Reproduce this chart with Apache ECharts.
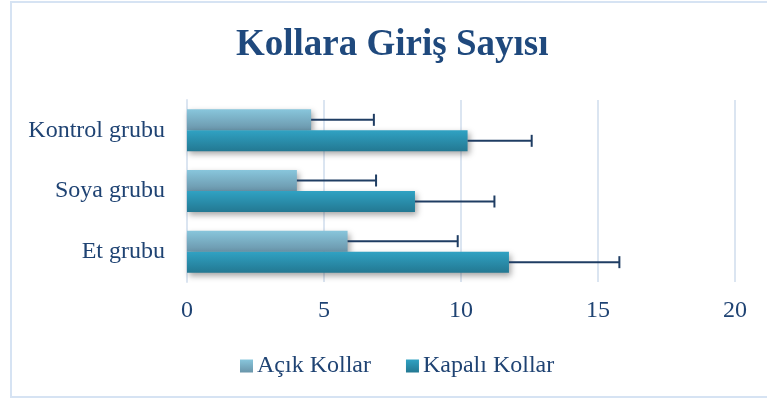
<!DOCTYPE html>
<html>
<head>
<meta charset="utf-8">
<script src="https://cdn.jsdelivr.net/npm/echarts@6/dist/echarts.min.js"></script>
<style>
  html, body { margin: 0; padding: 0; background: #fff; }
  #chart { width: 767px; height: 400px; }
</style>
</head>
<body>
<div id="chart"></div>
<script>
// categories listed bottom to top (y category axis grows upwards)
const categories = ['Et grubu', 'Soya grubu', 'Kontrol grubu'];
const seriesNames = ['Açık Kollar', 'Kapalı Kollar'];
const acikValues = [5.86, 4.01, 4.53];
const acikErrors = [4.02, 2.89, 2.29];
const kapaliValues = [11.75, 8.32, 10.24];
const kapaliErrors = [4.03, 2.9, 2.34];
const xTicks = [0, 5, 10, 15, 20];

const textColor = '#1f4373';
const serif = '"Liberation Serif", "DejaVu Serif", serif';
const barW = 21;

const acikColor = new echarts.graphic.LinearGradient(0, 0, 0, 1, [
  {offset: 0, color: '#88c6dc'},
  {offset: 1, color: '#6a95aa'}
]);
const kapaliColor = new echarts.graphic.LinearGradient(0, 0, 0, 1, [
  {offset: 0, color: '#30a2c3'},
  {offset: 1, color: '#237892'}
]);

// error bar data: [category index, value, error, bar offset side]
const errData = [];
acikValues.forEach((v, i) => errData.push([i, v, acikErrors[i], -1]));
kapaliValues.forEach((v, i) => errData.push([i, v, kapaliErrors[i], 1]));

const renderError = (params, api) => {
  const side = api.value(3);
  const start = api.coord([api.value(1), api.value(0)]);
  const end = api.coord([api.value(1) + api.value(2), api.value(0)]);
  const y = start[1] + side * barW / 2;
  const style = {stroke: '#1f3d63', lineWidth: 2};
  return {
    type: 'group',
    children: [
      {type: 'line', shape: {x1: start[0], y1: y, x2: end[0], y2: y}, style: style},
      {type: 'line', shape: {x1: end[0], y1: y - 6, x2: end[0], y2: y + 6}, style: style}
    ]
  };
};

const options = {
  animation: false,
  title: {
    text: 'Kollara Giriş Sayısı',
    left: 236,
    top: 27,
    padding: 0,
    textStyle: {fontFamily: serif, fontSize: 37, fontWeight: 'bold', color: '#1f497d'}
  },
  graphic: [{
    type: 'rect',
    shape: {x: 11, y: 2, width: 800, height: 395},
    style: {fill: 'none', stroke: '#d6e3f3', lineWidth: 2},
    z: -1
  }],
  legend: {
    data: seriesNames,
    top: 349,
    left: 235,
    itemWidth: 13,
    itemHeight: 13,
    itemGap: 35,
    icon: 'rect',
    textStyle: {fontFamily: serif, fontSize: 24, color: textColor, padding: [0, 0, 0, -1]}
  },
  grid: {left: 187, right: 32, top: 100, bottom: 118},
  xAxis: {
    type: 'value',
    min: 0,
    max: 20,
    interval: 5,
    axisLine: {show: false},
    axisTick: {show: false},
    axisLabel: {
      fontFamily: serif, fontSize: 24, color: textColor, margin: 17,
      formatter: v => xTicks.includes(v) ? String(v) : ''
    },
    splitLine: {show: true, lineStyle: {color: '#dbe5f1', width: 2}}
  },
  yAxis: {
    type: 'category',
    data: categories,
    axisLine: {show: true, lineStyle: {color: '#dbe5f1', width: 2}},
    axisTick: {show: false},
    axisLabel: {fontFamily: serif, fontSize: 24, color: textColor, margin: 22}
  },
  series: [
    {
      name: seriesNames[0],
      type: 'bar',
      data: acikValues,
      barWidth: barW,
      barGap: '0%',
      itemStyle: {color: acikColor, shadowColor: 'rgba(0,0,0,0.35)', shadowBlur: 6, shadowOffsetX: 2, shadowOffsetY: 3}
    },
    {
      name: seriesNames[1],
      type: 'bar',
      data: kapaliValues,
      barWidth: barW,
      barGap: '0%',
      itemStyle: {color: kapaliColor, shadowColor: 'rgba(0,0,0,0.35)', shadowBlur: 6, shadowOffsetX: 2, shadowOffsetY: 3}
    },
    {
      type: 'custom',
      renderItem: renderError,
      data: errData,
      encode: {x: [1], y: 0},
      z: 5,
      silent: true
    }
  ]
};

const chart = echarts.init(document.getElementById('chart'));
chart.setOption(options);
</script>
</body>
</html>
